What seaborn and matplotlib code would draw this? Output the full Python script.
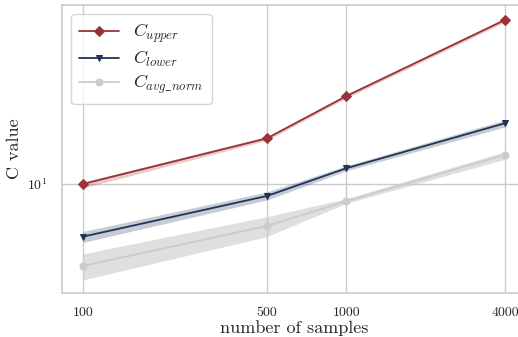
import numpy as np
import pandas as pd
import seaborn as sns
import matplotlib
matplotlib.use("Agg")
import matplotlib.pyplot as plt
from matplotlib.ticker import FixedLocator, FixedFormatter, NullLocator

sns.set_theme(style="whitegrid")
plt.rcParams["font.family"] = ["cmr10"]
plt.rcParams["mathtext.fontset"] = "cm"
plt.rcParams["axes.formatter.use_mathtext"] = True

# valores
samples = [100, 500, 1000, 4000]
c_upper = [10.0, 16.13, 25.1, 55.7]
c_upper_lo = [9.59, 15.80, 24.6, 54.5]
c_upper_hi = [10.21, 16.47, 25.6, 56.8]
c_lower = [5.76, 8.82, 11.79, 18.88]
c_lower_lo = [5.42, 8.46, 11.48, 18.16]
c_lower_hi = [6.08, 9.20, 12.10, 19.54]
c_avg = [4.24, 6.44, 8.35, 13.59]
c_avg_lo = [3.66, 5.76, 8.17, 12.95]
c_avg_hi = [4.81, 7.10, 8.57, 14.02]

# (rótulo, média, banda inf, banda sup, cor, marcador, alpha da banda)
series = [
    (r"$C_{upper}$", c_upper, c_upper_lo, c_upper_hi, "#9b3237", "D", 0.25),
    (r"$C_{lower}$", c_lower, c_lower_lo, c_lower_hi, "#1f3556", "v", 0.25),
    (r"$C_{avg\_norm}$", c_avg, c_avg_lo, c_avg_hi, "#cbcbcb", "o", 0.6),
]

fig = plt.figure(figsize=(5.18, 3.37), dpi=100)
ax = fig.add_axes([62 / 518, 44 / 337, (526 - 62) / 518, 288 / 337])
ax.set_xscale("log")
ax.set_yscale("log")

for label, mean, lo, hi, color, marker, a in series:
    df = pd.DataFrame({"n": samples, "c": mean})
    sns.lineplot(df, x="n", y="c", ax=ax, color=color, marker=marker,
                 markersize=5, markeredgecolor=color, linewidth=1.3, label=label)
    ax.fill_between(samples, lo, hi, color=color, alpha=a, linewidth=0)

ax.xaxis.set_major_locator(FixedLocator(samples))
ax.xaxis.set_major_formatter(FixedFormatter([str(s) for s in samples]))
ax.xaxis.set_minor_locator(NullLocator())
ax.yaxis.set_minor_locator(NullLocator())
ax.tick_params(labelsize=10, pad=4)
ax.set_xlabel("number of samples", fontsize=13, labelpad=1)
ax.set_ylabel("C value", fontsize=13)
ax.legend(loc="upper left", fontsize=13, frameon=True, labelspacing=0.2,
          handlelength=2.2, borderpad=0.45, handletextpad=0.8)

plt.savefig("out.png", dpi=100)
